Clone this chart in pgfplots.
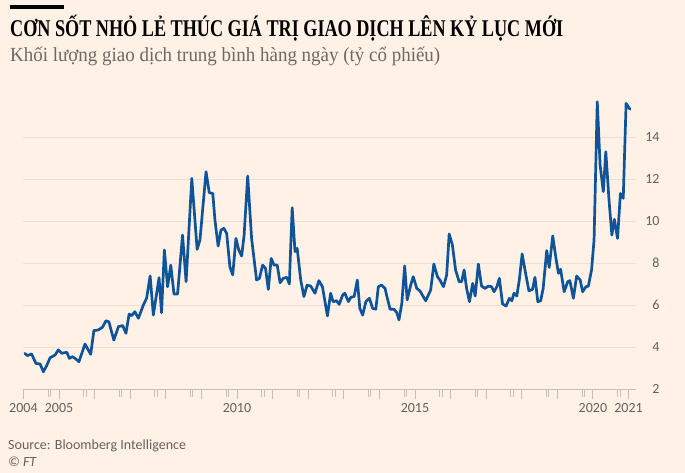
\documentclass[border=0pt]{standalone}
\usepackage{pgfplots}
\pgfplotsset{compat=1.18}
\usepackage{fontspec}
\usepackage{graphicx}
\setmainfont{Carlito}
\newfontfamily\titlefont{Liberation Serif}
\definecolor{ftbg}{HTML}{FFF1E5}
\definecolor{ftblue}{HTML}{0F5499}
\definecolor{ftgrid}{HTML}{EBE0D5}
\definecolor{ftaxis}{HTML}{C8BFB5}
\definecolor{fttext}{HTML}{66605C}
\definecolor{ftsub}{HTML}{6E6864}
\begin{document}
\begin{tikzpicture}
\useasboundingbox (0bp,0bp) rectangle (685bp,473bp);
\fill[ftbg] (0bp,0bp) rectangle (685bp,473bp);
\fill[black] (10bp,464bp) rectangle (64bp,468bp);
\node[anchor=base west, inner sep=0pt] at (10bp,436bp) {\resizebox{553bp}{\height}{\fontsize{24bp}{24bp}\titlefont\bfseries CƠN SỐT NHỎ LẺ THÚC GIÁ TRỊ GIAO DỊCH LÊN KỶ LỤC MỚI}};
\node[anchor=base west, inner sep=0pt, text=ftsub] at (10bp,411bp) {\resizebox{430bp}{\height}{\fontsize{20bp}{20bp}\titlefont Khối lượng giao dịch trung bình hàng ngày (tỷ cổ phiếu)}};
\node[anchor=base west, inner sep=0pt, text=fttext] at (8bp,24bp) {\fontsize{14bp}{15bp}\selectfont Source: Bloomberg Intelligence};
\node[anchor=base west, inner sep=0pt, text=fttext] at (8bp,7bp) {\fontsize{14bp}{15bp}\selectfont\itshape © FT};
\begin{axis}[
  at={(22.7bp,84bp)}, anchor=south west,
  scale only axis, width=613bp, height=294bp,
  xmin=2003.98, xmax=2021.2, ymin=2, ymax=16,
  clip=false,
  axis x line*=bottom, axis y line*=right,
  y axis line style={draw=none},
  x axis line style={ftaxis, line width=0.9bp},
  ytick={2,4,...,14},
  ymajorgrids, grid style={ftgrid, line width=0.9bp},
  ytick style={draw=none},
  xtick={2004,...,2021},
  xticklabels={2004,2005,,,,,2010,,,,,2015,,,,,2020,2021},
  minor xtick={2004.69,2004.76,2005.69,2005.76,2006.69,2006.76,2007.69,2007.76,2008.69,2008.76,2009.69,2009.76,2010.69,2010.76,2011.69,2011.76,2012.69,2012.76,2013.69,2013.76,2014.69,2014.76,2015.69,2015.76,2016.69,2016.76,2017.69,2017.76,2018.69,2018.76,2019.69,2019.76,2020.69,2020.76},
  tick align=outside,
  major tick length=10bp, minor tick length=8bp,
  xtick style={ftaxis, line width=0.9bp},
  /pgf/number format/assume math mode=true,
  ticklabel style={font=\fontsize{14bp}{15bp}\selectfont, text=fttext},
  xticklabel style={anchor=north, inner sep=0pt, yshift=-4bp},
  yticklabel style={anchor=east, inner sep=0pt, xshift=14bp},
  axis line style={-},
]
\addplot[ftblue, line width=2.7bp, line join=round, line cap=round] table {
x y
2004.04 3.70
2004.11 3.59
2004.23 3.67
2004.35 3.22
2004.47 3.19
2004.56 2.82
2004.65 3.10
2004.75 3.49
2004.89 3.62
2004.98 3.86
2005.08 3.70
2005.22 3.75
2005.29 3.46
2005.38 3.54
2005.45 3.46
2005.56 3.30
2005.73 4.14
2005.89 3.65
2005.98 4.78
2006.10 4.81
2006.22 4.94
2006.32 5.25
2006.40 5.20
2006.54 4.33
2006.67 4.97
2006.79 5.02
2006.88 4.65
2006.97 5.57
2007.04 5.49
2007.13 5.68
2007.23 5.37
2007.37 6.00
2007.46 6.32
2007.56 7.38
2007.65 5.52
2007.81 7.30
2007.88 5.63
2007.96 8.62
2008.05 6.87
2008.14 7.90
2008.23 6.52
2008.33 6.52
2008.47 9.33
2008.57 7.11
2008.73 12.03
2008.88 8.65
2008.96 9.10
2009.13 12.35
2009.22 11.35
2009.32 11.31
2009.38 10.05
2009.47 8.81
2009.55 9.57
2009.63 9.65
2009.71 9.41
2009.80 7.82
2009.88 7.43
2009.97 9.17
2010.05 8.62
2010.13 8.33
2010.20 9.33
2010.30 12.14
2010.41 9.17
2010.55 7.19
2010.63 7.27
2010.72 7.90
2010.80 7.75
2010.88 6.74
2010.96 8.22
2011.04 7.90
2011.13 7.90
2011.21 7.06
2011.30 7.27
2011.40 7.32
2011.47 7.00
2011.55 10.63
2011.63 8.54
2011.69 8.70
2011.79 7.19
2011.88 6.40
2011.97 6.95
2012.07 6.90
2012.19 6.56
2012.30 7.16
2012.40 6.87
2012.54 5.48
2012.63 6.56
2012.70 6.16
2012.80 6.20
2012.87 6.03
2012.97 6.48
2013.03 6.56
2013.13 6.16
2013.20 6.37
2013.29 6.40
2013.38 7.19
2013.45 5.84
2013.53 5.52
2013.62 6.16
2013.72 6.32
2013.81 5.84
2013.90 5.80
2013.97 6.87
2014.06 6.95
2014.16 6.79
2014.20 6.48
2014.30 5.80
2014.41 5.80
2014.49 5.63
2014.55 5.29
2014.63 6.08
2014.71 7.86
2014.78 6.24
2014.88 6.95
2014.95 7.35
2015.05 6.79
2015.14 6.67
2015.30 6.20
2015.44 6.71
2015.53 7.95
2015.63 7.35
2015.70 7.19
2015.80 6.87
2015.89 7.43
2015.96 9.38
2016.05 8.86
2016.14 7.67
2016.24 7.11
2016.31 7.11
2016.38 7.67
2016.45 6.79
2016.53 6.16
2016.62 7.03
2016.69 6.43
2016.78 7.95
2016.87 6.90
2016.97 6.79
2017.06 6.90
2017.15 6.87
2017.22 6.63
2017.30 6.87
2017.37 7.27
2017.46 6.05
2017.56 5.95
2017.65 6.32
2017.72 6.20
2017.78 6.56
2017.86 6.43
2017.93 7.19
2018.01 8.43
2018.11 7.48
2018.20 6.68
2018.30 6.74
2018.37 7.32
2018.45 6.16
2018.53 6.20
2018.60 6.79
2018.70 8.59
2018.77 7.79
2018.87 9.29
2018.96 8.22
2019.03 7.51
2019.09 7.70
2019.19 6.63
2019.29 7.11
2019.35 7.16
2019.45 6.32
2019.54 7.38
2019.64 7.19
2019.71 6.63
2019.80 6.87
2019.87 6.90
2019.96 7.67
2020.03 9.10
2020.12 15.68
2020.20 12.67
2020.29 11.40
2020.36 13.30
2020.45 11.00
2020.53 9.33
2020.60 10.08
2020.69 9.17
2020.77 11.31
2020.85 11.08
2020.93 15.60
2021.04 15.32
};
\end{axis}
\end{tikzpicture}
\end{document}
